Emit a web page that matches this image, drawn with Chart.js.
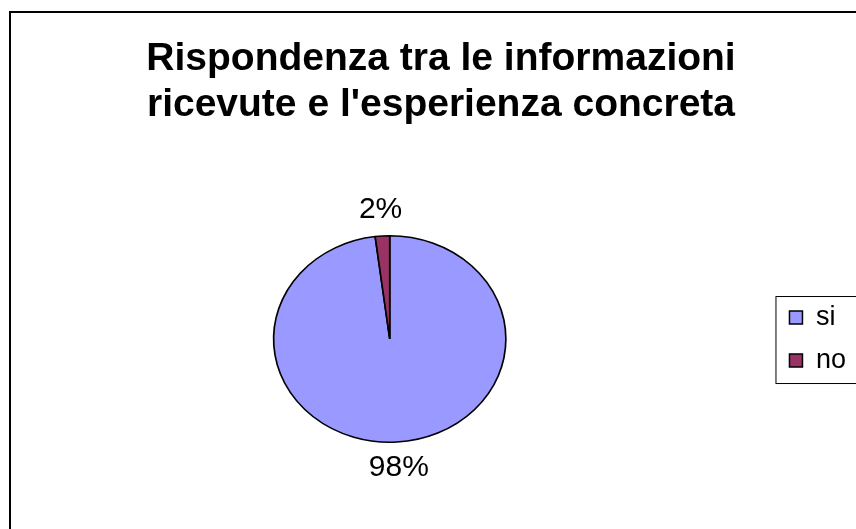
<!DOCTYPE html>
<html>
<head>
<meta charset="utf-8">
<script src="https://cdn.jsdelivr.net/npm/chart.js@4/dist/chart.umd.min.js"></script>
<style>
  html, body { margin: 0; padding: 0; background: #fff; overflow: hidden; }
  canvas { display: block; }
</style>
</head>
<body>
<canvas id="chart" width="856" height="529"></canvas>
<script>
const titleLines = ["Rispondenza tra le informazioni", "ricevute e l'esperienza concreta"];
const categories = ["si", "no"];
const percentages = [98, 2];
const sliceColors = ["#9999FF", "#993366"];

const FONT = "'Liberation Sans', Arial, Helvetica, sans-serif";
// the original pie is a bit wider than tall, and sits a little left of the title centre
const PIE_STRETCH_X = 1.125;
const PIE_SHIFT_X = -10;

const framePlugin = {
  id: "frame",
  beforeDraw(chart) {
    const ctx = chart.ctx;
    ctx.save();
    ctx.fillStyle = "#fff";
    ctx.fillRect(0, 0, chart.width, chart.height);
    ctx.restore();
  },
  beforeDatasetsDraw(chart) {
    const arc = chart.getDatasetMeta(0).data[0];
    const ctx = chart.ctx;
    ctx.save();
    ctx.translate(arc.x + PIE_SHIFT_X, arc.y);
    ctx.scale(PIE_STRETCH_X, 1);
    ctx.translate(-arc.x, -arc.y);
  },
  afterDatasetsDraw(chart) {
    chart.ctx.restore();

    // percentage labels outside each slice
    const ctx = chart.ctx;
    const meta = chart.getDatasetMeta(0);
    const total = percentages.reduce((a, b) => a + b, 0);
    ctx.save();
    ctx.font = "30px " + FONT;
    ctx.fillStyle = "#000";
    ctx.textAlign = "center";
    ctx.textBaseline = "middle";
    meta.data.forEach((arc, i) => {
      const mid = (arc.startAngle + arc.endAngle) / 2;
      const dist = arc.outerRadius + 26;
      const x = arc.x + PIE_SHIFT_X + PIE_STRETCH_X * Math.cos(mid) * dist;
      const y = arc.y + Math.sin(mid) * dist;
      ctx.fillText(Math.round(percentages[i] / total * 100) + "%", x, y);
    });
    ctx.restore();
  },
  afterDraw(chart) {
    const ctx = chart.ctx;
    ctx.save();
    // outer chart border (runs off the right and bottom edge)
    ctx.strokeStyle = "#000";
    ctx.lineWidth = 2;
    ctx.strokeRect(10, 12, chart.width + 40, chart.height + 40);

    // legend frame
    const boxes = chart.legend.legendHitBoxes;
    if (boxes && boxes.length) {
      const first = boxes[0];
      const last = boxes[boxes.length - 1];
      const left = first.left - 13.5;
      const top = first.top - 7.5;
      const bottom = last.top + last.height + 9.5;
      ctx.lineWidth = 1;
      ctx.strokeStyle = "#000";
      ctx.strokeRect(left, top, chart.width, bottom - top);
    }
    ctx.restore();
  }
};

new Chart(document.getElementById("chart"), {
  type: "pie",
  data: {
    labels: categories,
    datasets: [{
      data: percentages,
      backgroundColor: sliceColors,
      borderColor: "#000",
      borderWidth: 1.5
    }]
  },
  options: {
    responsive: false,
    devicePixelRatio: 1,
    animation: false,
    layout: { padding: { left: 26, top: 0, right: 0, bottom: 86 } },
    plugins: {
      title: {
        display: true,
        text: titleLines,
        color: "#000",
        font: { family: FONT, size: 39, weight: "bold", lineHeight: 1.18 },
        padding: { top: 36, bottom: 107 }
      },
      legend: {
        position: "right",
        fullSize: false,
        labels: {
          color: "#000",
          font: { family: FONT, size: 27 },
          boxWidth: 13,
          boxHeight: 13,
          padding: 16
        }
      },
      tooltip: { enabled: false }
    }
  },
  plugins: [framePlugin]
});
</script>
</body>
</html>
